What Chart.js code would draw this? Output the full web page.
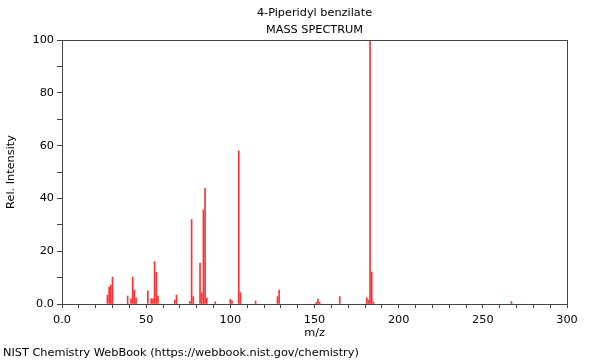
<!DOCTYPE html>
<html>
<head>
<meta charset="utf-8">
<script src="https://cdn.jsdelivr.net/npm/chart.js@4/dist/chart.umd.min.js"></script>
<style>
  html, body { margin: 0; padding: 0; background: #fff; }
  #wrap { position: relative; width: 600px; height: 360px; }
  #foot { position: absolute; left: 3px; top: 346px; font: 11.3px "DejaVu Sans"; color: #000; white-space: nowrap; }
</style>
</head>
<body>
<div id="wrap">
  <canvas id="myChartSpectrum" width="600" height="360"></canvas>
  <div id="foot">NIST Chemistry WebBook (https://webbook.nist.gov/chemistry)</div>
</div>
<script>
// m/z values and relative intensities
const mz = [27, 28, 29, 30, 39, 41, 42, 43, 44, 51, 53, 54, 55, 56, 57, 67, 68,
  76, 77, 78, 82, 83, 84, 85, 86, 91, 100, 101, 105, 106, 115, 128, 129,
  151, 152, 153, 165, 181, 182, 183, 184, 185, 267]
const intensity = [3.4, 6.4, 7.2, 10.2, 3, 2, 10.2, 5.3, 2.3, 5, 2, 2, 16, 12, 3, 1.5, 3.4,
  1, 32, 2.8, 15.5, 4.3, 35.6, 43.8, 2.3, 0.8, 1.8, 1.2, 58, 4.3, 1.1, 2.8, 5.3,
  0.6, 1.9, 0.8, 2.8, 2.4, 1.5, 100, 12.1, 0.8, 0.9]
const xTickLabels = [0, 50, 100, 150, 200, 250, 300]
const yTickLabels = [0, 20, 40, 60, 80, 100]

const font = { family: 'DejaVu Sans', size: 11.3, weight: 'normal' }

// draw the box round the plot area
const frame = {
  id: 'frame',
  afterDraw(chart) {
    const a = chart.chartArea
    const c = chart.ctx
    c.save()
    c.strokeStyle = '#444'
    c.lineWidth = 1
    c.strokeRect(Math.round(a.left) + 0.5, Math.round(a.top) + 0.5,
      Math.round(a.right - a.left), Math.round(a.bottom - a.top))
    c.restore()
  }
}

var ctx = document.getElementById('myChartSpectrum')
var myChart = new Chart(ctx, {
  type: 'bar',
  data: {
    datasets: [{
      data: mz.map((m, i) => ({ x: m, y: intensity[i] })),
      backgroundColor: '#ff3030',
      barThickness: 1,
      grouped: false
    }]
  },
  options: {
    responsive: false,
    animation: false,
    layout: { padding: { left: 0, right: 33, top: 0, bottom: 16 } },
    plugins: {
      legend: { display: false },
      tooltip: { enabled: false },
      title: {
        display: true,
        fullSize: false,
        text: ['4-Piperidyl benzilate', 'MASS SPECTRUM'],
        color: '#000',
        font: { ...font, lineHeight: 17 / 11.3 },
        padding: { top: 5, bottom: 1 }
      }
    },
    scales: {
      x: {
        type: 'linear',
        min: 0,
        max: 300,
        offset: false,
        afterFit: s => { s.height = 40 },
        ticks: {
          stepSize: 10,
          autoSkip: false,
          maxRotation: 0,
          padding: 5,
          color: '#000',
          font: font,
          callback: v => xTickLabels.includes(v) ? (v === 0 ? '0.0' : String(v)) : ''
        },
        grid: { drawOnChartArea: false, offset: false, tickLength: 4, color: '#444' },
        border: { color: '#444' },
        title: { display: true, text: 'm/z', color: '#000', font: font, padding: { top: 0, bottom: 4 } }
      },
      y: {
        min: 0,
        max: 100,
        afterFit: s => { s.width = 62 },
        ticks: {
          stepSize: 10,
          autoSkip: false,
          padding: 3,
          color: '#000',
          font: font,
          callback: v => yTickLabels.includes(v) ? (v === 0 ? '0.0' : String(v)) : ''
        },
        grid: { drawOnChartArea: false, tickLength: 5, color: '#444' },
        border: { color: '#444' },
        title: { display: true, text: 'Rel. Intensity', color: '#000', font: font, padding: { top: 4, bottom: 0 } }
      }
    }
  },
  plugins: [frame]
})
</script>
</body>
</html>
